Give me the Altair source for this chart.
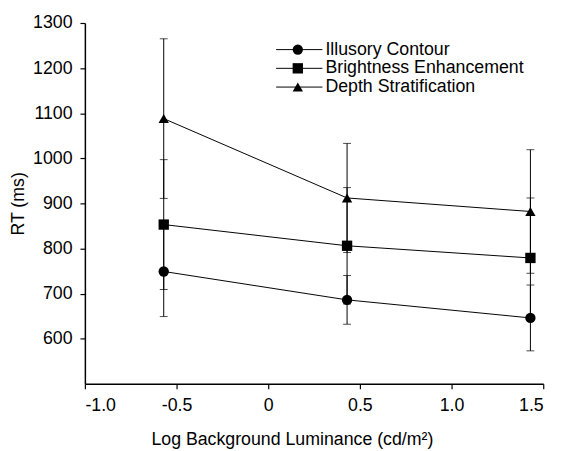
import altair as alt
import pandas as pd

# ---- data ----
series = ["Illusory Contour", "Brightness Enhancement", "Depth Stratification"]
log_lum = [-0.57, 0.43, 1.43]
rt_ic = [749, 686, 646]
err_ic = [100, 54, 73]
rt_be = [853, 806, 779]
err_be = [144, 129, 133]
rt_ds = [1088, 912, 882]
err_ds = [177, 121, 137]
y_ticks = [600, 700, 800, 900, 1000, 1100, 1200, 1300]
x_ticks = [-1.0, -0.5, 0.0, 0.5, 1.0, 1.5]

rows = []
for name, vals, errs in [(series[0], rt_ic, err_ic), (series[1], rt_be, err_be), (series[2], rt_ds, err_ds)]:
    for x, v, e in zip(log_lum, vals, errs):
        rows.append({"series": name, "x": x, "rt": v, "lo": v - e, "hi": v + e})
df = pd.DataFrame(rows)
caps = pd.concat([
    df[["series", "x", "lo"]].rename(columns={"lo": "cap"}),
    df[["series", "x", "hi"]].rename(columns={"hi": "cap"}),
])
leg = pd.DataFrame({"series": series})

FONT = "Liberation Sans"
FS = 18
shape_scale = alt.Scale(domain=series, range=["circle", "square", "triangle-up"])

xenc = alt.X("x:Q", scale=alt.Scale(domain=[-1.0, 1.5], nice=False, zero=False),
             axis=alt.Axis(values=x_ticks, title="Log Background Luminance (cd/m\u00b2)",
                           labelExpr="datum.value == 0 ? '0' : (datum.value < 0 ? '-' : '') + format(abs(datum.value), '.1f')",
                           labelPadding=8, titlePadding=17, titleX=210))
yscale = alt.Scale(domain=[500, 1300], nice=False, zero=False)
yaxis = alt.Axis(values=y_ticks, format="d", title="RT (ms)", labelPadding=8, titlePadding=5)

base = alt.Chart(df)
err = base.mark_rule(color="black", strokeWidth=1).encode(
    x=xenc, y=alt.Y("lo:Q", scale=yscale, axis=yaxis), y2="hi:Q")
capm = alt.Chart(caps).mark_tick(color="black", thickness=1, size=8, orient="horizontal").encode(
    x="x:Q", y=alt.Y("cap:Q", scale=yscale))
line = base.mark_line(color="black", strokeWidth=1).encode(
    x="x:Q", y=alt.Y("rt:Q", scale=yscale), detail="series:N")
pts = base.mark_point(filled=True, color="black", opacity=1, size=110).encode(
    x="x:Q", y=alt.Y("rt:Q", scale=yscale),
    shape=alt.Shape("series:N", scale=shape_scale, legend=None))
data_layer = alt.layer(err, capm, line, pts)

ly = alt.Y("series:N", scale=alt.Scale(type="point", domain=series, range=[27, 65], padding=0), axis=None)
lg = alt.Chart(leg)
leg_line = lg.mark_rule(color="black", strokeWidth=1).encode(x=alt.value(194), x2=alt.value(241), y=ly)
leg_pt = lg.mark_point(filled=True, color="black", opacity=1, size=110).encode(
    x=alt.value(216), y=ly, shape=alt.Shape("series:N", scale=shape_scale, legend=None))
leg_txt = lg.mark_text(align="left", baseline="middle", font=FONT, fontSize=FS, color="black").encode(
    x=alt.value(244), y=ly, text="series:N")
legend_layer = alt.layer(leg_line, leg_pt, leg_txt)

chart = alt.layer(data_layer, legend_layer).resolve_scale(y="independent").properties(
    width=465, height=366,
    autosize=alt.AutoSizeParams(type="none"),
    padding={"left": 78, "top": 12, "right": 17, "bottom": 65},
    background="white",
).configure_view(stroke=None).configure_axis(
    grid=False, domainColor="black", domainWidth=1.5, tickColor="black", tickWidth=1.2,
    tickSize=5, labelFont=FONT, labelFontSize=FS, labelColor="black",
    titleFont=FONT, titleFontSize=FS, titleFontWeight="normal", titleColor="black",
)

chart.save("out.html", embed_options={"renderer": "svg", "actions": False})
